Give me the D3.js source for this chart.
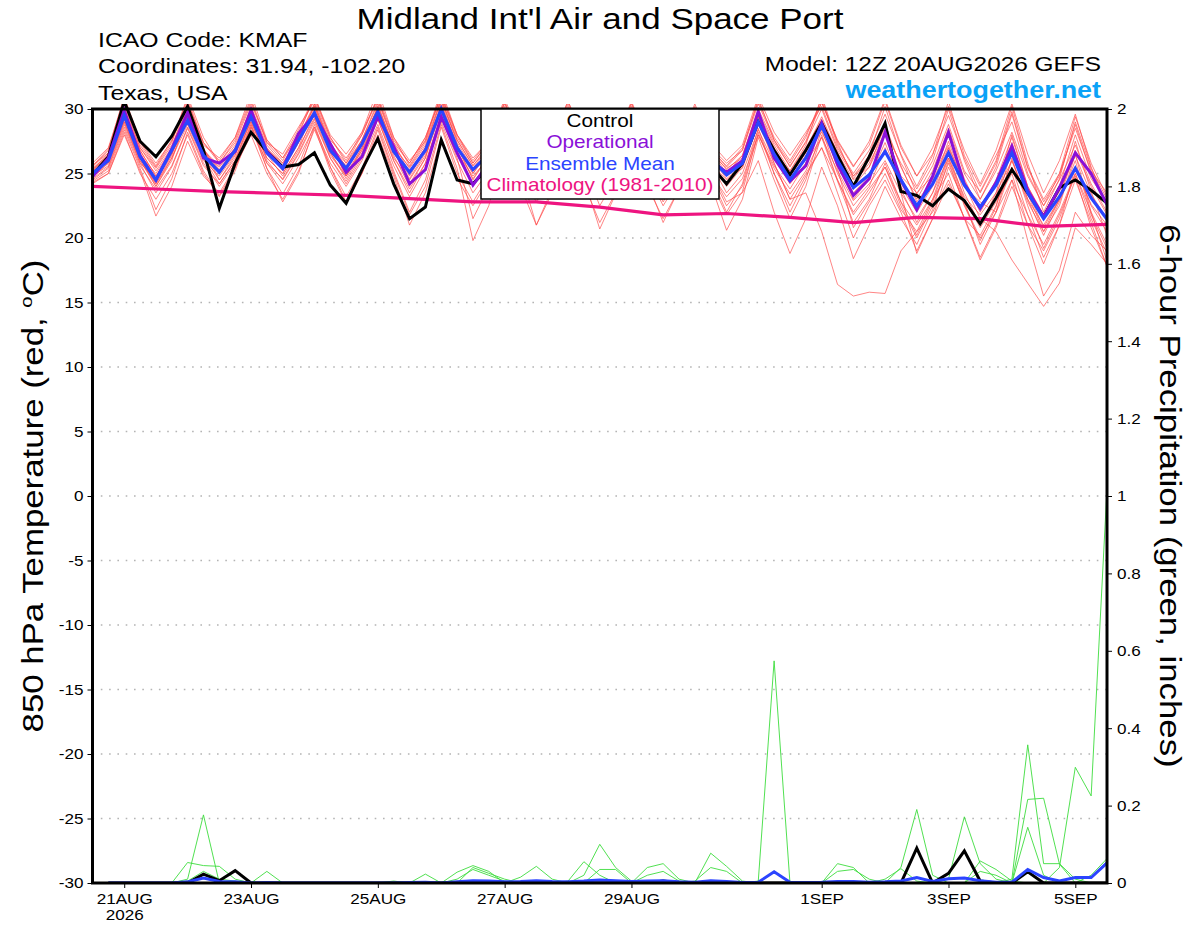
<!DOCTYPE html>
<html>
<head>
<meta charset="utf-8">
<script src="https://cdn.jsdelivr.net/npm/d3@7"></script>
<style>
body { margin: 0; background: #fff; }
svg { display: block; font-family: "Liberation Sans", Arial, Helvetica, sans-serif; }
</style>
</head>
<body>
<script>
// ---- data ----
var runStart = "2026-08-20T12:00Z", runEnd = "2026-09-05T12:00Z";
var xTickDates = ["2026-08-21", "2026-08-23", "2026-08-25", "2026-08-27", "2026-08-29", "2026-09-01", "2026-09-03", "2026-09-05"];
var xTickLabels = ["21AUG", "23AUG", "25AUG", "27AUG", "29AUG", "1SEP", "3SEP", "5SEP"];
var tempTicks = [-30, -25, -20, -15, -10, -5, 0, 5, 10, 15, 20, 25, 30];
var gridTicks = [-25, -20, -15, -10, -5, 0, 5, 10, 15, 20, 25];
var precipTicks = [0, 0.2, 0.4, 0.6, 0.8, 1, 1.2, 1.4, 1.6, 1.8, 2];

// 850 hPa temperature, 6-hourly from 12Z 20AUG
var control = [24.9,26.3,30.6,27.5, 26.3,27.9,30.2,26.8, 22.3,25.8,28.2,26.7, 25.5,25.7,26.6,24.1, 22.7,25.3,27.7,24.2, 21.5,22.4,27.6,24.5, 24.2,25.5,29.0,26.5, 25.0,26.4,29.4,26.8, 25.2,26.0,28.6,26.0, 24.6,25.8,28.5,25.6, 24.2,25.8,29.0,26.8, 24.9,26.8,28.9,26.4, 24.0,26.3,28.9,23.6, 23.3,22.5,23.8,22.9, 21.1,23.1,25.3,23.5, 21.65,23.9,24.5,23.7, 22.7];
var operational = [24.75,26.2,29.9,26.4, 24.5,26.9,29.7,26.2, 25.8,26.7,29.9,26.7, 25.4,28.1,29.6,27.3, 25.1,26.3,29.4,27.1, 24.2,25.3,29.4,26.6, 24.1,25.8,29.6,26.9, 25.3,26.8,29.5,26.7, 25.0,26.4,29.2,26.3, 24.7,26.0,29.0,26.0, 25.1,26.0,29.8,26.2, 24.4,25.6,28.9,25.7, 23.3,24.6,28.2,24.5, 22.2,24.8,28.2,24.2, 22.3,24.3,27.1,23.7, 21.65,23.9,26.6,25.0, 22.6];
var ensMean = [25.0,26.0,29.5,26.3, 24.5,26.8,29.1,26.4, 25.1,26.8,29.4,26.6, 25.4,27.6,29.7,26.8, 25.4,27.3,29.8,26.7, 25.1,26.8,30.0,27.0, 25.3,26.5,29.3,26.8, 25.2,26.7,29.2,26.6, 25.0,26.5,29.0,26.4, 24.8,26.3,28.8,26.2, 24.9,25.8,29.0,26.5, 24.5,26.2,28.7,26.0, 23.9,24.9,26.7,24.5, 22.5,24.2,26.6,24.1, 22.4,24.1,26.6,23.5, 21.5,23.2,25.4,23.1, 21.45];
// climatology, daily at 12Z
var climTemp = [24.0, 23.8, 23.6, 23.45, 23.3, 23.05, 22.8, 22.8, 22.4, 21.8, 21.9, 21.6, 21.2, 21.6, 21.5, 20.9, 21.05];

var members = [
  [25.5,26.8,31.0,27.5, 25.8,27.5,30.5,27.4, 26.0,27.8,31.2,27.6, 26.2,28.4,31.0,28.0, 26.5,28.2,31.5,27.8, 26.0,27.5,31.2,28.0, 26.2,27.5,30.8,27.8, 26.0,27.6,30.6,27.5, 25.8,27.4,30.5,27.4, 25.6,27.2,30.2,27.0, 25.5,26.8,30.8,27.6, 25.5,27.5,30.5,27.6, 25.6,27.2,30.6,27.0, 24.8,26.5,29.5,26.2, 23.5,25.8,29.8,25.5, 23.0,25.0,28.5,25.2, 23.5],
  [24.2,25.0,28.0,25.2, 21.7,24.0,27.5,24.8, 23.5,25.5,28.0,25.0, 23.0,25.2,28.4,25.5, 22.8,25.0,28.0,24.8, 21.0,23.5,27.8,24.6, 22.5,24.5,28.2,25.0, 22.8,24.8,28.0,25.2, 23.0,25.0,28.2,25.0, 22.5,24.5,27.8,24.8, 22.0,24.2,28.5,25.0, 22.5,24.8,27.0,23.5, 20.0,22.5,24.5,22.0, 19.0,21.5,24.2,21.6, 18.5,21.0,24.5,21.8, 19.5,22.0,25.0,22.0, 18.2],
  [25.2,26.5,29.8,26.8, 24.8,26.6,30.2,27.0, 24.5,26.2,29.0,26.2, 25.0,27.0,30.4,27.2, 24.8,27.0,30.2,27.0, 24.2,26.2,30.5,27.2, 24.5,26.4,29.8,26.8, 24.6,26.5,29.6,26.5, 24.2,26.0,29.5,26.2, 23.8,25.8,29.3,26.0, 24.0,25.5,29.2,25.8, 23.0,23.5,20.5,16.4, 15.5,15.8,15.7,19.0, 20.5,22.0,24.5,21.5, 20.2,22.5,26.0,22.8, 20.5,22.5,26.5,22.0, 19.5],
  [24.8,26.0,29.2,26.0, 24.0,26.0,29.6,26.2, 25.0,26.8,29.8,26.8, 25.5,27.8,30.2,27.0, 25.6,27.6,30.0,26.8, 25.0,27.0,30.2,27.2, 25.0,26.8,29.5,27.0, 25.2,26.8,29.0,26.6, 24.8,26.4,29.2,26.6, 24.6,26.2,28.8,26.0, 24.2,25.8,29.4,26.8, 24.6,26.4,28.2,25.8, 23.5,24.8,26.8,24.0, 22.0,24.0,27.5,24.2, 21.5,20.5,18.3,16.5, 14.7,16.5,20.8,19.5, 18.0],
  [25.3,26.2,29.5,26.4, 25.0,26.9,29.4,26.6, 25.5,27.0,29.9,26.9, 25.8,27.6,29.8,27.0, 25.2,27.2,30.2,27.2, 25.4,27.2,30.6,27.6, 25.6,27.0,29.8,27.2, 25.5,27.0,29.6,27.0, 25.4,26.8,29.4,26.8, 25.2,26.8,29.2,26.6, 25.4,26.2,29.6,27.0, 25.0,26.8,29.4,26.6, 24.5,25.5,28.0,24.8, 23.5,24.8,27.2,24.0, 22.8,22.0,24.5,19.8, 15.5,17.5,22.0,20.2, 19.0],
  [24.6,25.5,28.8,25.8, 23.5,25.5,28.5,25.6, 24.2,26.0,29.2,26.0, 24.5,26.5,29.0,26.2, 24.2,26.2,29.2,26.0, 23.5,25.8,29.6,26.5, 24.0,25.8,28.8,26.0, 24.2,25.8,28.6,25.8, 23.8,25.5,28.8,25.8, 23.5,25.4,28.4,25.2, 22.8,23.5,26.0,22.0, 18.8,21.5,25.5,22.5, 18.4,21.0,24.0,21.5, 19.5,22.2,26.0,22.5, 19.8,22.4,27.0,23.0, 20.2,22.8,26.0,21.8, 19.2],
  [25.8,27.0,30.8,27.2, 25.5,27.4,31.0,27.8, 25.8,27.6,30.6,27.4, 26.0,28.2,30.8,27.8, 25.8,28.0,31.0,27.8, 25.6,27.6,31.5,28.0, 25.8,27.5,30.5,27.6, 25.8,27.4,30.2,27.4, 25.6,27.2,30.4,27.2, 25.2,27.0,30.0,26.8, 25.6,27.0,30.6,27.8, 26.0,28.0,30.5,27.5, 25.5,27.5,30.8,27.2, 24.8,27.0,30.2,26.8, 24.2,26.8,30.4,26.5, 23.5,26.0,29.6,25.5, 22.5],
  [24.3,25.0,28.2,25.0, 23.0,25.0,28.0,25.0, 23.2,25.2,28.6,25.4, 23.4,25.6,28.8,25.5, 23.2,25.4,28.6,25.2, 22.0,24.5,28.8,25.4, 19.8,22.5,27.0,24.0, 21.0,23.5,27.5,24.2, 21.2,23.5,27.4,24.0, 21.5,23.8,27.6,24.2, 20.6,23.0,27.8,24.5, 21.5,24.0,28.0,24.5, 21.8,23.5,25.5,22.5, 20.0,22.5,25.8,22.6, 20.0,22.0,25.5,21.8, 18.5,21.0,24.5,21.2, 17.8],
  [25.4,26.4,30.0,26.8, 24.8,26.8,29.8,26.8, 25.6,27.2,30.0,27.0, 25.6,27.8,30.2,27.2, 25.8,27.6,30.4,27.0, 25.5,27.4,30.8,27.4, 25.4,27.0,30.0,27.2, 25.6,27.2,30.0,27.2, 25.2,26.8,29.8,27.0, 25.0,26.8,29.6,26.8, 25.3,26.4,29.8,27.2, 25.2,27.0,29.2,26.6, 24.0,25.5,28.8,25.5, 23.0,25.2,28.5,25.0, 23.0,25.2,28.2,24.8, 22.5,24.5,27.2,24.2, 22.0],
  [24.9,25.8,29.0,26.0, 24.2,26.2,28.8,26.0, 24.8,26.5,29.0,26.2, 25.0,27.0,29.3,26.4, 24.8,26.8,29.4,26.2, 24.5,26.4,29.8,26.6, 24.8,26.2,29.0,26.4, 24.8,26.4,28.8,26.2, 24.5,26.0,28.6,26.0, 24.2,25.8,28.4,25.8, 24.5,25.4,28.8,26.2, 24.2,25.8,27.8,25.2, 22.9,24.2,26.0,23.5, 21.5,23.5,26.2,23.2, 21.8,23.5,26.0,23.0, 21.0,23.0,25.4,22.6, 21.0],
  [25.6,26.6,30.4,27.0, 25.2,27.0,30.6,27.2, 26.2,27.8,30.8,27.4, 26.5,28.6,30.6,27.6, 26.2,28.0,30.8,27.4, 25.8,27.8,31.0,27.8, 25.8,27.4,30.6,27.5, 26.0,27.6,30.4,27.4, 25.8,27.2,30.2,27.2, 25.5,27.2,30.0,27.0, 25.8,26.8,30.4,27.6, 25.8,27.8,30.8,27.2, 24.8,26.0,29.0,23.5, 18.8,21.5,25.5,22.8, 21.0,23.5,28.0,24.0, 21.8,24.0,28.0,24.6, 22.8],
  [24.7,25.8,29.2,26.2, 24.0,26.2,29.2,26.4, 24.5,26.4,29.5,26.5, 24.8,26.8,29.6,26.6, 24.6,26.6,29.6,26.4, 24.0,26.2,30.0,26.8, 24.2,26.0,29.2,26.5, 24.4,26.2,29.0,26.4, 24.0,25.8,29.0,26.2, 23.8,25.6,28.6,25.8, 23.5,25.0,28.4,25.8, 23.0,25.0,27.0,24.5, 22.0,23.8,25.5,22.8, 21.0,23.0,25.0,21.5, 18.3,20.8,24.0,21.0, 19.0,21.5,25.0,21.5, 18.8],
  [25.1,26.3,29.6,26.6, 24.6,26.6,29.9,26.9, 25.3,27.0,29.6,26.8, 25.2,27.4,30.0,27.0, 25.0,27.0,29.9,26.8, 24.8,26.8,30.2,27.0, 25.0,26.6,29.6,27.0, 25.0,26.8,29.4,26.8, 24.8,26.4,29.2,26.6, 24.6,26.4,29.0,26.4, 24.8,26.0,29.4,26.8, 24.8,26.6,29.0,26.4, 24.2,25.8,28.2,25.8, 23.8,26.0,30.0,26.0, 23.0,25.5,29.6,25.4, 22.8,24.8,28.8,25.0, 22.5],
  [24.4,25.2,28.4,25.4, 22.2,24.6,28.2,25.2, 23.3,25.4,28.8,25.4, 22.8,25.0,28.6,25.2, 22.7,25.0,28.4,25.0, 21.8,24.0,28.6,25.0, 22.8,24.8,28.4,25.2, 21.0,23.8,27.8,24.6, 20.7,23.4,27.6,24.4, 21.2,23.8,27.8,24.4, 21.8,23.6,28.2,25.0, 22.0,24.5,28.4,25.0, 22.5,24.0,27.0,23.8, 21.2,23.5,27.0,23.5, 21.0,23.2,27.0,23.4, 20.5,23.0,27.5,23.6, 20.2],
  [25.0,26.1,29.6,26.5, 24.4,26.5,29.4,26.5, 25.0,26.6,29.5,26.6, 25.4,27.4,29.8,26.8, 25.4,27.4,30.0,26.8, 25.2,27.0,30.3,27.2, 25.2,26.8,29.4,26.9, 25.3,27.0,29.4,26.8, 25.0,26.6,29.0,26.4, 24.8,26.6,29.0,26.4, 25.0,26.0,29.4,26.6, 25.2,27.2,31.0,27.4, 24.6,26.2,28.5,25.6, 22.8,24.5,27.0,24.4, 22.2,24.5,27.8,24.0, 21.6,23.6,26.4,23.4, 21.5],
  [24.5,25.4,28.6,25.6, 23.8,25.6,28.6,25.8, 24.0,25.8,28.6,25.8, 24.2,26.2,28.6,25.8, 24.0,26.0,28.8,25.6, 23.2,25.4,29.0,26.0, 23.5,25.2,28.6,25.8, 23.8,25.4,28.4,25.6, 23.4,25.0,28.2,25.4, 23.0,24.8,27.8,25.0, 23.2,24.6,28.0,25.4, 23.4,25.2,27.8,24.4, 21.2,23.0,25.8,22.8, 20.2,22.8,26.2,22.8, 19.5,22.0,26.2,22.5, 19.2,21.8,24.8,20.8, 17.8],
  [25.3,26.6,30.2,27.0, 25.4,27.2,30.0,26.6, 25.0,26.8,30.2,27.2, 25.8,27.8,30.4,27.4, 25.5,27.6,30.6,27.4, 25.0,27.0,30.8,27.6, 25.6,27.2,30.2,27.4, 25.4,27.0,29.8,27.0, 25.4,27.0,29.9,26.9, 25.4,27.0,29.8,26.8, 25.0,26.4,30.0,27.4, 25.6,27.4,30.0,26.8, 24.8,26.4,30.2,26.4, 23.4,25.6,28.8,25.2, 23.6,26.0,30.2,25.8, 22.0,24.6,29.0,25.4, 23.0],
  [24.8,25.6,29.0,25.8, 24.6,26.6,29.0,26.2, 24.2,26.0,28.8,25.8, 24.6,26.6,29.2,26.2, 24.4,26.4,29.2,26.0, 23.8,25.8,29.4,26.2, 21.5,24.0,28.0,25.0, 23.5,25.6,28.6,25.6, 22.5,24.6,28.0,25.2, 22.8,24.8,28.0,25.0, 22.5,24.0,28.0,25.6, 23.8,25.8,29.0,25.4, 20.8,22.8,25.0,22.2, 20.5,23.0,26.5,23.0, 20.8,22.8,25.0,21.0, 18.0,21.0,25.5,22.5, 20.5],
  [25.6,26.9,30.6,27.4, 25.6,27.6,30.8,27.4, 25.8,27.4,30.4,27.6, 26.2,28.0,31.0,27.8, 26.0,28.2,30.8,27.6, 25.8,27.8,31.0,28.0, 26.0,27.6,30.4,27.6, 26.0,27.8,30.6,27.8, 26.0,27.6,30.6,27.6, 25.8,27.4,30.4,27.4, 26.0,27.2,31.0,28.2, 26.4,28.2,30.2,27.0, 25.0,26.8,29.6,26.5, 24.0,26.4,30.6,26.4, 24.0,26.4,29.0,25.0, 22.5,25.0,29.4,25.8, 23.2],
  [25.2,26.0,29.4,26.2, 24.2,26.4,29.6,26.8, 25.2,26.9,29.7,26.8, 25.6,27.5,29.5,26.6, 24.8,26.8,29.8,26.6, 24.6,26.6,30.1,27.0, 24.6,26.4,29.4,26.6, 24.9,26.6,29.2,26.6, 24.6,26.2,29.0,26.4, 24.4,26.2,28.8,26.2, 24.6,25.6,29.0,26.4, 24.4,26.2,28.6,25.8, 23.0,24.6,27.4,24.2, 22.4,24.6,28.0,24.6, 22.0,24.2,27.4,23.6, 20.8,23.0,26.8,24.0, 21.8]
];

// 6-hour precipitation (inches), 18Z 20AUG .. 12Z 5SEP
var precipControl = [0,0,0,0,0,0,.023,.006, .032,0,0,0,0,0,0,0, 0,0,0,0,0,0,0,0, 0,0,0,0,0,0,0,0, 0,0,0,.005,0,0,0,0, 0,0,0,0,0,0,0,0, 0,0,0,.09,0,.025,.083,.005, 0,0,.029,0,0,0,0,0];
var precipMean = [0,0,0,0,0,.003,.013,.004, .003,0,.001,0,0,0,0,0, 0,0,0,.001,.002,0,.003,.006, .005,.003,.004,.006,.004,.003,.005,.008, .006,.004,.005,.006,.003,.002,.006,.004, .001,.002,.029,.002,.001,.002,.004,.004, .002,.003,.005,.014,.004,.011,.013,.006, .002,.002,.035,.014,.005,.014,.014,.052];
var precipMembers = [
  [0,0,0,0,0,.053,.045,.043, .01,0,0,0,0,0,0,0, 0,0,0,0,0,0,0,0, 0,0,0,0,0,0,0,0, 0,0,0,0,0,0,0,0, 0,0,0,0,0,0,0,0, 0,0,.04,.19,.02,0,0,0, 0,0,0,0,0,0,0,0],
  [0,0,0,0,0,.01,.176,0, 0,0,0,0,0,0,0,0, 0,0,0,0,0,0,0,0, 0,0,0,0,0,0,0,0, 0,0,0,0,0,0,0,0, 0,0,0,0,0,0,0,0, 0,0,0,0,0,.01,.171,.05, .01,0,0,0,0,0,0,0],
  [0,0,0,0,0,.005,.03,.01, .005,0,0,0,0,0,0,0, 0,0,0,0,0,0,0,0, 0,0,0,0,0,0,0,0, 0,0,0,0,0,0,0,0, 0,0,0,0,0,0,0,0, 0,0,0,0,0,0,0,.057, .035,.005,0,0,0,0,0,0],
  [0,0,0,0,0,0,0,0, 0,0,.03,0,0,0,0,0, 0,0,0,0,0,0,0,0, 0,0,0,0,0,0,0,0, 0,0,0,0,0,0,0,0, 0,0,0,0,0,0,0,0, 0,0,0,0,0,0,0,0, 0,.01,.357,.05,.05,.01,0,0],
  [0,0,0,0,0,0,0,0, 0,0,0,0,0,0,0,0, 0,0,.005,0,.023,0,0,0, 0,0,0,0,0,0,0,0, 0,0,0,0,0,0,0,0, 0,0,0,0,0,0,0,0, 0,0,0,0,0,0,0,0, 0,0,.216,.219,.049,0,0,0],
  [0,0,0,0,0,0,0,0, 0,0,0,0,0,0,0,0, 0,0,0,0,0,0,.028,.045, .03,0,0,0,0,0,0,0, 0,0,0,0,0,0,0,0, 0,0,0,0,0,0,0,0, 0,0,0,0,0,0,0,0, 0,0,.144,.02,0,0,0,0],
  [0,0,0,0,0,0,0,0, 0,0,0,0,0,0,0,0, 0,0,0,0,0,0,0,.04, .025,.01,0,0,0,0,0,0, 0,0,0,0,0,0,0,0, 0,0,0,0,0,0,0,0, 0,0,0,0,0,0,0,0, 0,0,0,0,.04,.299,.225,1.02],
  [0,0,0,0,0,0,0,0, 0,0,0,0,0,0,0,0, 0,0,0,0,0,0,.01,.035, .02,.005,0,0,0,0,0,0, 0,0,0,0,0,0,0,0, 0,0,0,0,0,0,0,0, 0,0,0,0,0,0,0,0, 0,0,0,0,0,0,.02,.063],
  [0,0,0,0,0,0,0,0, 0,0,0,0,0,0,0,0, 0,0,0,0,0,0,0,0, 0,0,.015,.043,.01,0,0,0, 0,0,0,0,0,0,0,0, 0,0,0,0,0,0,0,0, 0,0,0,0,0,0,0,.03, .02,0,0,0,0,0,0,0],
  [0,0,0,0,0,0,0,0, 0,0,0,0,0,0,0,0, 0,0,0,0,0,0,0,0, 0,0,0,0,0,.005,.055,.02, 0,0,0,0,0,0,0,0, 0,0,0,0,0,0,0,0, 0,0,0,0,0,0,0,0, 0,0,0,0,0,0,0,0],
  [0,0,0,0,0,0,0,0, 0,0,0,0,0,0,0,0, 0,0,0,0,0,0,0,0, 0,0,0,0,0,0,.02,.1, .04,.005,0,0,0,0,0,0, 0,0,0,0,0,0,0,0, 0,0,0,0,0,0,0,0, 0,0,0,0,0,0,0,0],
  [0,0,0,0,0,0,0,0, 0,0,0,0,0,0,0,0, 0,0,0,0,0,0,0,0, 0,0,0,0,0,0,0,.035, .035,0,0,0,0,0,0,0, 0,0,0,0,0,0,0,0, 0,0,0,0,0,0,0,0, 0,0,0,0,0,0,0,0],
  [0,0,0,0,0,0,0,0, 0,0,0,0,0,0,0,0, 0,0,0,0,0,0,0,0, 0,0,0,0,0,0,0,0, 0,0,.04,.05,.01,0,0,0, 0,0,0,0,0,0,0,0, 0,0,0,0,0,0,0,0, 0,0,0,0,0,0,0,0],
  [0,0,0,0,0,0,0,0, 0,0,0,0,0,0,0,0, 0,0,0,0,0,0,0,0, 0,0,0,0,0,0,0,0, 0,0,.02,.03,.005,0,0,0, 0,0,0,0,0,0,0,0, 0,0,0,0,0,0,0,0, 0,0,0,0,0,0,0,0],
  [0,0,0,0,0,0,0,0, 0,0,0,0,0,0,0,0, 0,0,0,0,0,0,0,0, 0,0,0,0,0,0,0,0, 0,0,0,0,0,0,.077,.043, .005,0,0,0,0,0,0,0, 0,0,0,0,0,0,0,0, 0,0,0,0,0,0,0,0],
  [0,0,0,0,0,0,0,0, 0,0,0,0,0,0,0,0, 0,0,0,0,0,0,0,0, 0,0,0,0,0,0,0,0, 0,0,0,0,0,.005,.04,.03, 0,0,0,0,0,0,0,0, 0,0,0,0,0,0,0,0, 0,0,0,0,0,0,0,0],
  [0,0,0,0,0,0,0,0, 0,0,0,0,0,0,0,0, 0,0,0,0,0,0,0,0, 0,0,0,0,0,0,0,0, 0,0,0,0,0,0,0,0, 0,.005,.574,0,0,0,0,0, 0,0,0,0,0,0,0,0, 0,0,0,0,0,0,0,0],
  [0,0,0,0,0,0,0,0, 0,0,0,0,0,0,0,0, 0,0,0,0,0,0,0,0, 0,0,0,0,0,0,0,0, 0,0,0,0,0,0,0,0, 0,0,0,0,0,0,.05,.04, 0,0,0,0,0,0,0,0, 0,0,0,0,0,0,0,0],
  [0,0,0,0,0,0,0,0, 0,0,0,0,0,0,0,0, 0,0,0,0,0,0,0,0, 0,0,0,0,0,0,0,0, 0,0,0,0,0,0,0,0, 0,0,0,0,0,0,.03,.035, .01,0,0,0,0,0,0,0, 0,0,0,0,0,0,0,0],
  [0,0,0,0,0,0,0,0, 0,0,0,0,0,0,0,0, 0,0,0,0,0,0,0,0, 0,0,0,0,0,0,0,0, 0,0,0,0,0,0,0,0, 0,0,0,0,0,0,0,0, 0,.01,.037,.005,0,0,0,0, 0,0,0,0,0,0,0,0]
];

var legendItems = [
  {label: "Control", color: "#000000"},
  {label: "Operational", color: "#8a10d8"},
  {label: "Ensemble Mean", color: "#2b44ff"},
  {label: "Climatology (1981-2010)", color: "#ee1480"}
];

// ---- layout ----
var W = 1200, H = 927;
var L = 92.5, R = 1107, T = 109, B = 883;

var svg = d3.select("body").append("svg")
    .attr("width", W)
    .attr("height", H);

// the original lettering is about 20% wider than Liberation Sans, so stretch it
function stretch(sel, sx) {
    sel.each(function() {
        var t = d3.select(this);
        var tx = +t.attr("x") || 0, ty = +t.attr("y") || 0;
        t.attr("x", 0).attr("y", 0)
         .attr("transform", "translate(" + tx + "," + ty + ") scale(" + sx + ",1)");
    });
}

var t0 = new Date(runStart), t1 = new Date(runEnd);
var times = d3.utcHour.every(6).range(t0, new Date(+t1 + 1));
var precipTimes = times.slice(1);
var climTimes = times.filter(function(d, i){ return i % 4 === 0; });

var x = d3.scaleUtc().domain([t0, t1]).range([L, R]);
var yT = d3.scaleLinear().domain([-30, 30]).range([B, T]);
var yP = d3.scaleLinear().domain([0, 2]).range([B, T]);

svg.append("defs").append("clipPath").attr("id", "plotclip")
    .append("rect")
    .attr("x", L).attr("y", T - 5)
    .attr("width", R - L).attr("height", B - T + 5);

// dotted grid
svg.append("g").selectAll("line").data(gridTicks).enter().append("line")
    .attr("x1", L).attr("x2", R)
    .attr("y1", function(d){ return yT(d); })
    .attr("y2", function(d){ return yT(d); })
    .style("stroke", "#b4b4b4")
    .style("stroke-width", 1.6)
    .style("stroke-dasharray", "1.6,6.7");

var lineT = d3.line()
    .x(function(d, i){ return x(times[i]); })
    .y(function(d){ return yT(d); });
var lineP = d3.line()
    .x(function(d, i){ return x(precipTimes[i]); })
    .y(function(d){ return yP(d); });
var lineClim = d3.line()
    .x(function(d, i){ return x(climTimes[i]); })
    .y(function(d){ return yT(d); });

var g = svg.append("g").attr("clip-path", "url(#plotclip)");

g.selectAll(".member").data(members).enter().append("path")
    .attr("class", "member")
    .attr("d", lineT)
    .style("fill", "none")
    .style("stroke", "#ff4a4a")
    .style("stroke-opacity", 0.85)
    .style("stroke-width", 0.8);

g.selectAll(".pmember").data(precipMembers).enter().append("path")
    .attr("class", "pmember")
    .attr("d", lineP)
    .style("fill", "none")
    .style("stroke", "#3ddc3d")
    .style("stroke-width", 0.9);

g.append("path").datum(climTemp)
    .attr("d", lineClim)
    .style("fill", "none")
    .style("stroke", legendItems[3].color)
    .style("stroke-width", 3.2);

g.append("path").datum(precipControl)
    .attr("d", lineP)
    .style("fill", "none").style("stroke", "#000").style("stroke-width", 3);
g.append("path").datum(precipMean)
    .attr("d", lineP)
    .style("fill", "none").style("stroke", legendItems[2].color).style("stroke-width", 3);

g.append("path").datum(control)
    .attr("d", lineT)
    .style("fill", "none").style("stroke", "#000").style("stroke-width", 3);
g.append("path").datum(operational)
    .attr("d", lineT)
    .style("fill", "none").style("stroke", legendItems[1].color).style("stroke-width", 3);
g.append("path").datum(ensMean)
    .attr("d", lineT)
    .style("fill", "none").style("stroke", legendItems[2].color).style("stroke-width", 3.2);

// ---- axes ----
var axL = svg.append("g").attr("transform", "translate(" + L + ",0)")
    .call(d3.axisLeft(yT).tickValues(tempTicks).tickSize(5).tickPadding(4)
        .tickFormat(function(d){ return String(d); }));
var axR = svg.append("g").attr("transform", "translate(" + R + ",0)")
    .call(d3.axisRight(yP).tickValues(precipTicks).tickSize(5).tickPadding(5)
        .tickFormat(d3.format("~g")));
var axB = svg.append("g").attr("transform", "translate(0," + B + ")")
    .call(d3.axisBottom(x).tickValues(xTickDates.map(function(d){ return new Date(d + "T00:00Z"); }))
        .tickSize(5).tickPadding(5)
        .tickFormat(function(d, i){ return xTickLabels[i]; }));

axB.select(".tick text").append("tspan")
    .attr("x", 0).attr("dy", "1.1em").text("2026");

[axL, axR, axB].forEach(function(a){
    a.select(".domain").remove();
    a.selectAll("text").style("font-size", "15px").style("fill", "#000")
        .style("font-family", "\"Liberation Sans\", Arial, sans-serif");
    a.selectAll("line").style("stroke", "#000").style("stroke-width", 1);
    stretch(a.selectAll(".tick text"), 1.14);
});

// frame
svg.append("rect")
    .attr("x", L).attr("y", T)
    .attr("width", R - L).attr("height", B - T)
    .style("fill", "none")
    .style("stroke", "#000")
    .style("stroke-width", 3);

// ---- legend ----
var leg = svg.append("g");
leg.append("rect")
    .attr("x", 481).attr("y", T)
    .attr("width", 238).attr("height", 90)
    .style("fill", "#fff")
    .style("stroke", "#000")
    .style("stroke-width", 1.5);
leg.selectAll("text").data(legendItems).enter().append("text")
    .attr("x", 600)
    .attr("y", function(d, i){ return 127 + i * 21.3; })
    .attr("text-anchor", "middle")
    .style("font-size", "17.5px")
    .style("fill", function(d){ return d.color; })
    .text(function(d){ return d.label; })
    .call(stretch, 1.185);

// ---- titles ----
svg.append("text")
    .attr("x", 600).attr("y", 29)
    .attr("text-anchor", "middle")
    .style("font-size", "30px")
    .text("Midland Int'l Air and Space Port")
    .call(stretch, 1.166);

var info = ["ICAO Code: KMAF", "Coordinates: 31.94, -102.20", "Texas, USA"];
svg.selectAll(".info").data(info).enter().append("text")
    .attr("class", "info")
    .attr("x", 98)
    .attr("y", function(d, i){ return 46.5 + i * 26.5; })
    .style("font-size", "20px")
    .text(function(d){ return d; })
    .call(stretch, 1.24);

svg.append("text")
    .attr("x", 1101).attr("y", 71)
    .attr("text-anchor", "end")
    .style("font-size", "20px")
    .text("Model: 12Z 20AUG2026 GEFS")
    .call(stretch, 1.22);
svg.append("text")
    .attr("x", 1101).attr("y", 97.5)
    .attr("text-anchor", "end")
    .style("font-size", "23px")
    .style("font-weight", "bold")
    .style("fill", "#0aa2f7")
    .text("weathertogether.net")
    .call(stretch, 1.17);

// axis titles
var yl = svg.append("text")
    .attr("transform", "translate(43,496) rotate(-90) scale(1.2,1)")
    .attr("text-anchor", "middle")
    .style("font-size", "29px");
yl.append("tspan").text("850 hPa Temperature (red, ");
yl.append("tspan").attr("dy", -11).style("font-size", "17px").text("o");
yl.append("tspan").attr("dy", 11).text("C)");

svg.append("text")
    .attr("transform", "translate(1160,496) rotate(90) scale(1.2,1)")
    .attr("text-anchor", "middle")
    .style("font-size", "29px")
    .text("6-hour Precipitation (green, inches)");
</script>
</body>
</html>
